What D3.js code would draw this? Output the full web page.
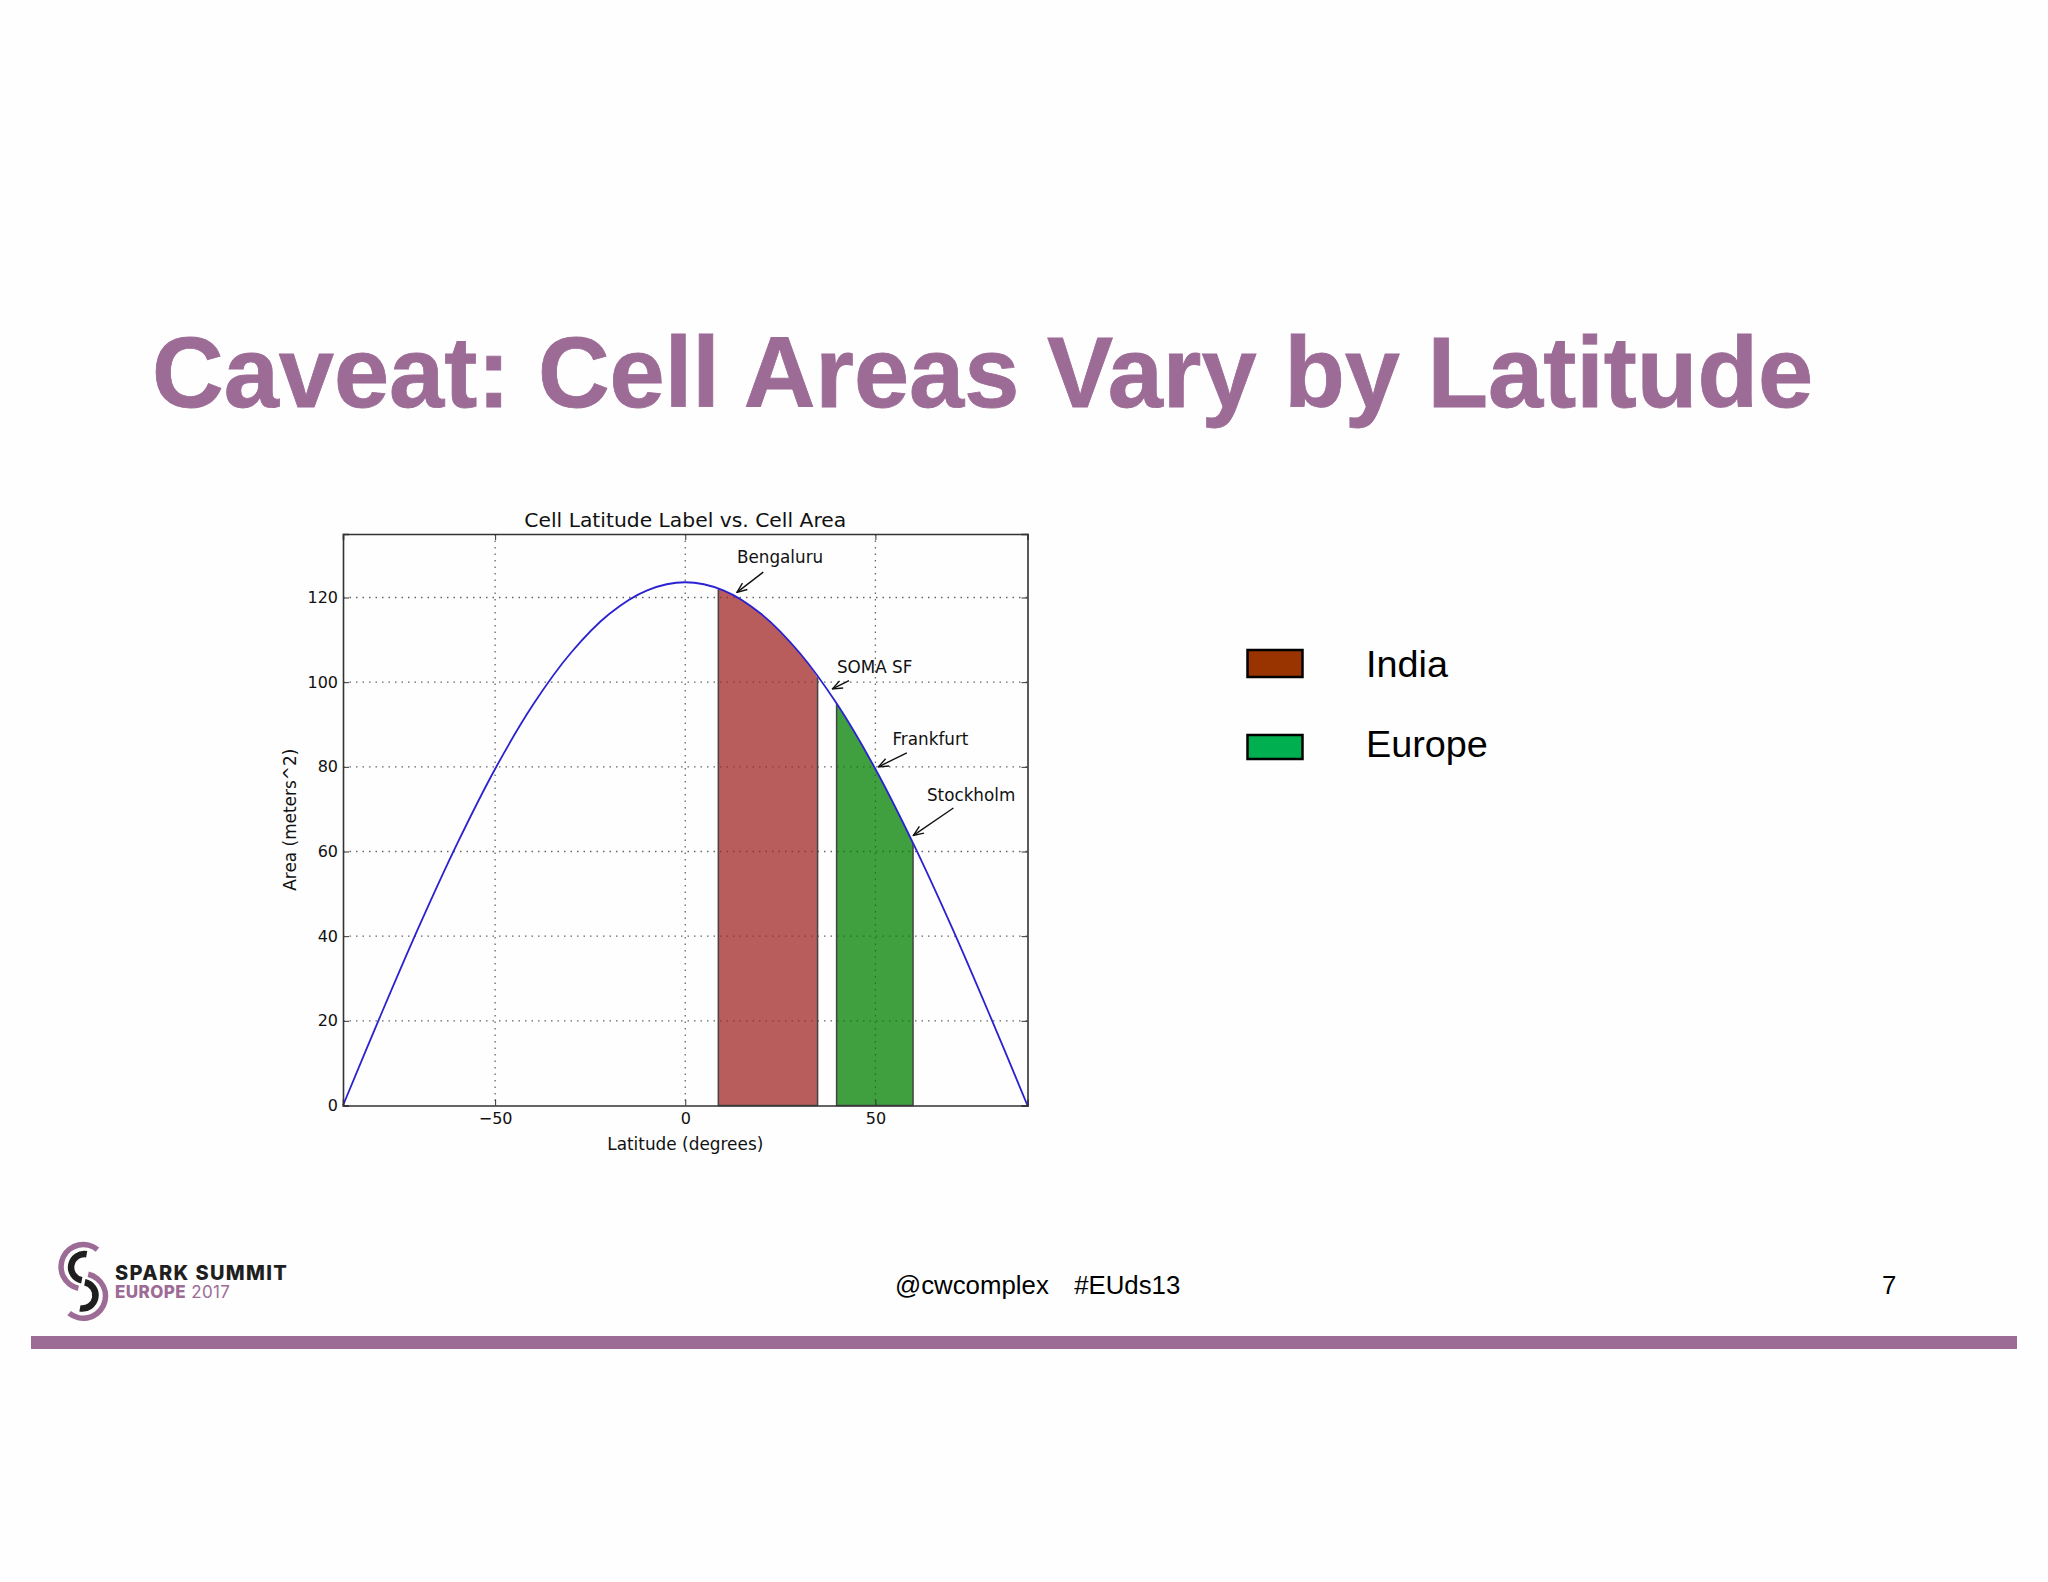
<!DOCTYPE html>
<html>
<head>
<meta charset="utf-8">
<script src="https://cdn.jsdelivr.net/npm/d3@7"></script>
<style>
  html, body { margin: 0; padding: 0; background: #fefefe; }
</style>
</head>
<body>
<div id="slide"></div>
<script>
// curve every 10 degrees
var latitudes = [-90, -80, -70, -60, -50, -40, -30, -20, -10, 0, 10, 20, 30, 40, 50, 60, 70, 80, 90];
var areas = [0, 21.5, 42.3, 61.8, 79.5, 94.7, 107, 116.1, 121.7, 123.6, 121.7, 116.1, 107, 94.7, 79.5, 61.8, 42.3, 21.5, 0];

// shaded latitude bands
var bandNames = ["India", "Europe"];
var bandStart = [8.7, 39.8];
var bandEnd = [34.8, 59.9];
var bandColors = ["#a02525", "#008000"];
var legendColors = ["#993300", "#00b050"];

// arrow annotations
var placeNames = ["Bengaluru", "SOMA SF", "Frankfurt", "Stockholm"];
var placeLat = [13.6, 38.7, 50.8, 60];
var placeArea = [121.2, 98.4, 80, 63.8];

var xTicks = [-50, 0, 50];
var yTicks = [0, 20, 40, 60, 80, 100, 120];

var svgWidth = 2048;
var svgHeight = 1582;
var purple = "#9c6b96";

var margin = { top: 534, right: 1020.5, bottom: 476.5, left: 343 };
var width = svgWidth - margin.left - margin.right;
var height = svgHeight - margin.top - margin.bottom;

var svg = d3.select("#slide")
  .append("svg")
  .attr("width", svgWidth)
  .attr("height", svgHeight)
  .style("display", "block");

svg.append("rect")
  .attr("width", svgWidth)
  .attr("height", svgHeight)
  .attr("fill", "#fefefe");

// slide title
svg.append("text")
  .attr("x", 152)
  .attr("y", 407)
  .style("font-family", "Liberation Sans")
  .style("font-weight", "bold")
  .style("font-size", "99.2px")
  .style("fill", purple)
  .style("stroke", purple)
  .style("stroke-width", 0.8)
  .text("Caveat: Cell Areas Vary by Latitude");

var chartGroup = svg.append("g")
  .attr("transform", `translate(${margin.left}, ${margin.top})`);

var xScale = d3.scaleLinear().domain([-90, 90]).range([0, width]);
var yScale = d3.scaleLinear().domain([0, 135]).range([height, 0]);

// grid
chartGroup.append("g")
  .selectAll("line")
  .data(xTicks)
  .enter()
  .append("line")
  .attr("x1", d => xScale(d))
  .attr("x2", d => xScale(d))
  .attr("y1", 0)
  .attr("y2", height)
  .attr("stroke", "#666")
  .attr("stroke-width", 1.3)
  .attr("stroke-dasharray", "1.5,5");

chartGroup.append("g")
  .selectAll("line")
  .data(yTicks.slice(1))
  .enter()
  .append("line")
  .attr("x1", 0)
  .attr("x2", width)
  .attr("y1", d => yScale(d))
  .attr("y2", d => yScale(d))
  .attr("stroke", "#666")
  .attr("stroke-width", 1.3)
  .attr("stroke-dasharray", "1.5,5");

// bands under the curve
var curve = d3.curveCatmullRom.alpha(0.5);

var bandArea = d3.area()
  .x(d => xScale(d.lat))
  .y0(height)
  .y1(d => yScale(d.area))
  .curve(curve);

var allPoints = latitudes.map((lat, i) => ({ lat: lat, area: areas[i] }));

// reading the curve height at a band edge from the neighbouring read values
var areaAt = d3.scaleLinear().domain(latitudes).range(areas);

bandNames.forEach(function(name, i) {
  var inside = allPoints.filter(d => d.lat > bandStart[i] && d.lat < bandEnd[i]);
  var pts = [{ lat: bandStart[i], area: areaAt(bandStart[i]) }]
    .concat(inside)
    .concat([{ lat: bandEnd[i], area: areaAt(bandEnd[i]) }]);
  chartGroup.append("path")
    .attr("d", bandArea(pts))
    .attr("fill", bandColors[i])
    .attr("fill-opacity", 0.75);
  chartGroup.append("path")
    .attr("d", `M${xScale(bandStart[i])},${yScale(areaAt(bandStart[i]))}V${height}H${xScale(bandEnd[i])}V${yScale(areaAt(bandEnd[i]))}`)
    .attr("fill", "none")
    .attr("stroke", "#444")
    .attr("stroke-width", 1.5);
});

// curve
var line = d3.line()
  .x(d => xScale(d.lat))
  .y(d => yScale(d.area))
  .curve(curve);

chartGroup.append("path")
  .attr("d", line(allPoints))
  .attr("fill", "none")
  .attr("stroke", "#2a22d0")
  .attr("stroke-width", 1.8);

// axes, matplotlib style with ticks on the inside of all four sides
var bottomAxis = d3.axisBottom(xScale).tickValues(xTicks).tickSize(-6).tickPadding(7)
  .tickFormat(d => String(d).replace("-", "\u2212"));
var topAxis = d3.axisTop(xScale).tickValues(xTicks).tickSize(-6).tickFormat("");
var leftAxis = d3.axisLeft(yScale).tickValues(yTicks).tickSize(-6).tickPadding(5);
var rightAxis = d3.axisRight(yScale).tickValues(yTicks).tickSize(-6).tickFormat("");

chartGroup.append("g").attr("transform", `translate(0, ${height})`).attr("class", "axis").call(bottomAxis);
chartGroup.append("g").attr("class", "axis").call(topAxis);
chartGroup.append("g").attr("class", "axis").call(leftAxis);
chartGroup.append("g").attr("transform", `translate(${width}, 0)`).attr("class", "axis").call(rightAxis);

chartGroup.selectAll(".axis text")
  .style("font-family", "DejaVu Sans")
  .style("font-size", "16px")
  .style("fill", "#111");
chartGroup.selectAll(".axis .domain").attr("stroke", "#333").attr("stroke-width", 1.6);
chartGroup.selectAll(".axis .tick line").attr("stroke", "#333").attr("stroke-width", 1);

// axis labels and chart title
chartGroup.append("text")
  .attr("x", width / 2)
  .attr("y", -7)
  .style("text-anchor", "middle")
  .style("font-family", "DejaVu Sans")
  .style("font-size", "20.3px")
  .style("fill", "#111")
  .text("Cell Latitude Label vs. Cell Area");

chartGroup.append("text")
  .attr("x", width / 2)
  .attr("y", height + 44.5)
  .style("text-anchor", "middle")
  .style("font-family", "DejaVu Sans")
  .style("font-size", "16.9px")
  .style("fill", "#111")
  .text("Latitude (degrees)");

chartGroup.append("text")
  .attr("transform", `translate(-47, ${yScale(67.5)}) rotate(-90)`)
  .style("text-anchor", "middle")
  .style("font-family", "DejaVu Sans")
  .style("font-size", "16.9px")
  .style("fill", "#111")
  .text("Area (meters^2)");

// annotations
var textOffset = [[0, -29.6], [4.5, -15.5], [14, -22.3], [13.5, -34.7]];
var tailOffset = [[26.3, -20.3], [16.6, -8.3], [28.4, -14], [40, -27.4]];

var defs = svg.append("defs");
defs.append("marker")
  .attr("id", "arrow")
  .attr("viewBox", "0 0 12 10")
  .attr("refX", 11)
  .attr("refY", 5)
  .attr("markerWidth", 12)
  .attr("markerHeight", 10)
  .attr("markerUnits", "userSpaceOnUse")
  .attr("orient", "auto")
  .append("path")
  .attr("d", "M1,1L11,5L1,9")
  .attr("fill", "none")
  .attr("stroke", "#111")
  .attr("stroke-width", 1.4);

placeNames.forEach(function(name, i) {
  var px = xScale(placeLat[i]);
  var py = yScale(placeArea[i]);
  chartGroup.append("line")
    .attr("x1", px + tailOffset[i][0])
    .attr("y1", py + tailOffset[i][1])
    .attr("x2", px)
    .attr("y2", py)
    .attr("stroke", "#111")
    .attr("stroke-width", 1.4)
    .attr("marker-end", "url(#arrow)");
  chartGroup.append("text")
    .attr("x", px + textOffset[i][0])
    .attr("y", py + textOffset[i][1])
    .style("font-family", "DejaVu Sans")
    .style("font-size", "16.8px")
    .style("fill", "#111")
    .text(name);
});

// legend to the right of the plot
var legendTop = [650, 735];
var legendHeight = [27, 24];
var legendBase = [677, 757];
bandNames.forEach(function(name, i) {
  svg.append("rect")
    .attr("x", 1247.5)
    .attr("y", legendTop[i])
    .attr("width", 55)
    .attr("height", legendHeight[i])
    .attr("fill", legendColors[i])
    .attr("stroke", "#000")
    .attr("stroke-width", 2.5);
  svg.append("text")
    .attr("x", 1366)
    .attr("y", legendBase[i])
    .style("font-family", "Liberation Sans")
    .style("font-size", "37.8px")
    .style("fill", "#000")
    .text(name);
});

// footer
svg.append("rect")
  .attr("x", 31)
  .attr("y", 1336)
  .attr("width", 1986)
  .attr("height", 13)
  .attr("fill", purple);

svg.append("text")
  .attr("x", 895)
  .attr("y", 1294)
  .attr("xml:space", "preserve")
  .style("white-space", "pre")
  .style("word-spacing", "1.3px")
  .style("font-family", "Liberation Sans")
  .style("font-size", "25.8px")
  .style("fill", "#000")
  .text("@cwcomplex   #EUds13");

svg.append("text")
  .attr("x", 1882)
  .attr("y", 1294)
  .style("font-family", "Liberation Sans")
  .style("font-size", "25.8px")
  .style("fill", "#000")
  .text("7");

// logo: two purple and two black arcs forming an S
var logoArc = d3.arc();
var logoParts = [
  { x: 83.3, y: 1266.7, inner: 19.5, outer: 25, start: 0.69, end: -2.92, fill: purple },
  { x: 83.3, y: 1296, inner: 19.5, outer: 25, start: 0.69 + Math.PI, end: -2.92 + Math.PI, fill: purple },
  { x: 84.3, y: 1267.3, inner: 10, outer: 16.5, start: 0.18, end: -2.95, fill: "#1f1f1f" },
  { x: 82.3, y: 1295.3, inner: 10, outer: 16.5, start: 0.18 + Math.PI, end: -2.95 + Math.PI, fill: "#1f1f1f" }
];
logoParts.forEach(function(p) {
  svg.append("path")
    .attr("transform", `translate(${p.x}, ${p.y})`)
    .attr("d", logoArc({ innerRadius: p.inner, outerRadius: p.outer, startAngle: p.start, endAngle: p.end }))
    .attr("fill", p.fill);
});

svg.append("text")
  .attr("x", 115)
  .attr("y", 1280)
  .style("font-family", "Inter")
  .style("font-weight", "800")
  .style("font-size", "20px")
  .style("letter-spacing", "1.35px")
  .style("fill", "#1f1f1f")
  .text("SPARK SUMMIT");

svg.append("text")
  .attr("x", 115)
  .attr("y", 1298)
  .style("font-family", "Inter")
  .style("font-size", "17px")
  .style("letter-spacing", "0.4px")
  .style("fill", purple)
  .html('<tspan font-weight="800">EUROPE</tspan> 2017');
</script>
</body>
</html>
